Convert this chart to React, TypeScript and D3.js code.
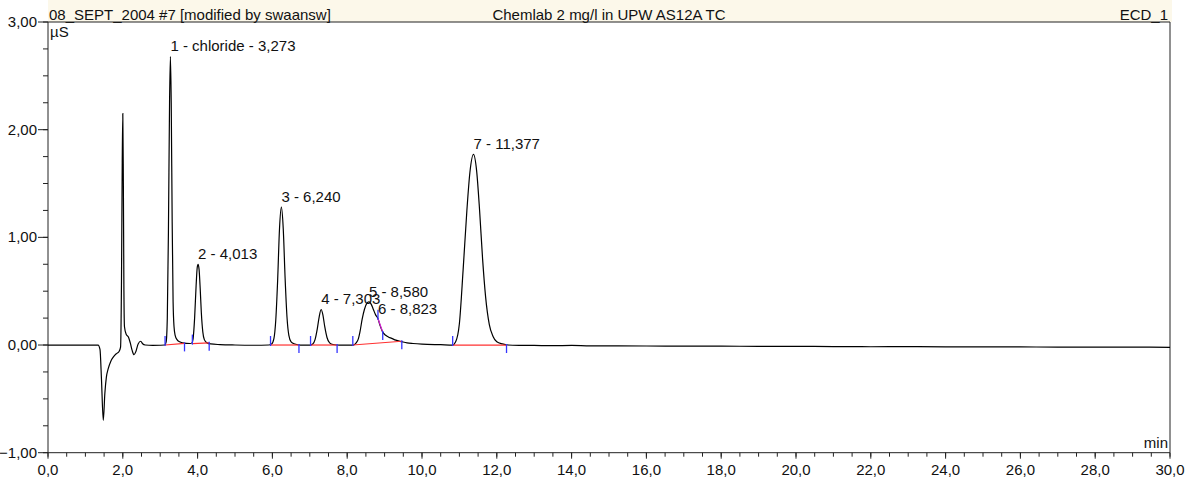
import React from "react";
import * as d3 from "d3";

const W = 1192;
const H = 483;

// Conductivity trace: [retention time (min), signal (µS)]
const trace: [number, number][] = [
  [0, 0], [0.5, 0.0], [1.0, 0.0], [1.34, 0.0], [1.39, -0.04], [1.43, -0.32],
  [1.478, -0.7], [1.52, -0.45], [1.56, -0.3], [1.61, -0.22], [1.68, -0.15],
  [1.75, -0.11], [1.83, -0.08], [1.9, -0.06], [1.94, -0.02], [1.965, 0.6],
  [1.985, 1.7], [2.0, 2.15], [2.015, 1.5], [2.03, 0.5], [2.045, 0.17],
  [2.09, 0.1], [2.15, 0.075], [2.2, 0.02], [2.25, -0.05], [2.3, -0.09],
  [2.35, -0.06], [2.41, 0.01], [2.48, 0.035], [2.53, 0.012], [2.6, 0.0],
  [2.8, -0.003], [3.0, -0.002], [3.12, 0.0],
  // peak 1
  [3.16, 0.03], [3.19, 0.25], [3.22, 1.05], [3.25, 2.25], [3.273, 2.68],
  [3.295, 2.25], [3.32, 1.15], [3.345, 0.4], [3.37, 0.17], [3.4, 0.09],
  [3.45, 0.05], [3.52, 0.03], [3.6, 0.02], [3.7, 0.015], [3.8, 0.014],
  // peak 2
  [3.85, 0.02], [3.88, 0.06], [3.92, 0.25], [3.96, 0.55], [3.99, 0.72],
  [4.013, 0.75], [4.04, 0.7], [4.07, 0.52], [4.1, 0.3], [4.14, 0.12],
  [4.18, 0.05], [4.25, 0.02], [4.35, 0.01], [4.6, 0.004], [5.0, 0.0],
  [5.5, -0.002], [5.9, 0.0],
  // peak 3
  [5.98, 0.01], [6.04, 0.06], [6.09, 0.23], [6.14, 0.6], [6.19, 1.08],
  [6.24, 1.28], [6.29, 1.08], [6.34, 0.62], [6.39, 0.26], [6.44, 0.09],
  [6.5, 0.03], [6.6, 0.01], [6.75, 0.0], [6.9, 0.0], [7.0, 0.0],
  // peak 4
  [7.08, 0.01], [7.14, 0.05], [7.2, 0.15], [7.25, 0.26], [7.303, 0.33],
  [7.35, 0.28], [7.4, 0.17], [7.46, 0.07], [7.53, 0.02], [7.62, 0.005],
  [7.8, 0.0], [8.0, 0.0], [8.16, 0.0],
  // peaks 5 and 6
  [8.24, 0.02], [8.3, 0.06], [8.34, 0.12], [8.4, 0.24], [8.46, 0.33],
  [8.52, 0.385], [8.58, 0.4], [8.64, 0.38], [8.7, 0.33], [8.76, 0.28],
  [8.823, 0.245], [8.88, 0.18], [8.95, 0.12], [9.03, 0.09], [9.1, 0.075],
  [9.19, 0.062], [9.3, 0.045], [9.46, 0.031], [9.6, 0.02], [9.76, 0.014],
  [10.0, 0.008], [10.5, 0.003], [10.82, 0.0],
  // peak 7
  [10.9, 0.03], [11.0, 0.2], [11.1, 0.7], [11.2, 1.25], [11.28, 1.6],
  [11.377, 1.77], [11.46, 1.62], [11.54, 1.25], [11.62, 0.8], [11.7, 0.45],
  [11.8, 0.19], [11.9, 0.08], [12.0, 0.03], [12.15, 0.01], [12.3, 0.0],
  // late baseline
  [12.6, -0.003], [13.0, -0.004], [13.5, -0.006], [14.0, -0.004],
  [14.5, -0.008], [15.0, -0.007], [16.0, -0.009], [17.0, -0.01],
  [18.0, -0.011], [19.0, -0.012], [20.0, -0.013], [21.0, -0.014],
  [22.0, -0.016], [23.0, -0.015], [24.0, -0.017], [25.0, -0.018],
  [26.0, -0.018], [27.0, -0.019], [28.0, -0.02], [29.0, -0.02], [30.0, -0.021],
];

// Integrated peaks
const peakNumbers = [1, 2, 3, 4, 5, 6, 7];
const peakNames = ["chloride", "", "", "", "", "", ""];
const peakTimes = [3.273, 4.013, 6.24, 7.303, 8.58, 8.823, 11.377];
const peakHeights = [2.68, 0.75, 1.28, 0.33, 0.4, 0.245, 1.77];
const peakStarts = [3.13, 3.86, 5.95, 7.02, 8.15, 8.823, 10.82];
const peakEnds = [3.65, 4.31, 6.71, 7.73, 9.46, 8.95, 12.26];
const baseAtStart = [0.0, 0.013, 0.0, 0.0, 0.0, 0.245, 0.0];
const baseAtEnd = [0.015, 0.02, 0.0, 0.0, 0.035, 0.12, 0.0];
// peak 6 is skimmed off peak 5's tail
const skimmed = [false, false, false, false, false, true, false];

const yTicks = [-1, 0, 1, 2, 3];
const xTicks = [0, 2, 4, 6, 8, 10, 12, 14, 16, 18, 20, 22, 24, 26, 28, 30];

const headerLeft = "08_SEPT_2004 #7 [modified by swaansw]";
const headerCenter = "Chemlab 2 mg/l in UPW AS12A TC";
const headerRight = "ECD_1";

const FONT = "'Liberation Sans', Arial, sans-serif";
const FS = 15;

export default function App() {
  const left = 48;
  const right = 1170;
  const top = 22;
  const bottom = 452.7;

  const x = d3.scaleLinear().domain([0, 30]).range([left, right]);
  const y = d3.scaleLinear().domain([-1, 3]).range([bottom, top]);

  const line = d3
    .line<[number, number]>()
    .x((d) => x(d[0]))
    .y((d) => y(d[1]))
    .curve(d3.curveMonotoneX);

  const fmtY = (v: number) => d3.format(".2f")(v).replace(".", ",");
  const fmtX = (v: number) => d3.format(".1f")(v).replace(".", ",");
  const fmtT = (v: number) => d3.format(".3f")(v).replace(".", ",");

  const minorY = d3.range(-1, 3.0001, 0.25);
  const minorX = d3.range(0, 30.0001, 0.5);

  return (
    <svg
      width={W}
      height={H}
      style={{ position: "absolute", left: 0, top: 0, background: "#fff" }}
      fontFamily={FONT}
      fontSize={FS}
    >
      {/* header band */}
      <rect x={left} y={0} width={right - left + 2} height={top} fill="#fcf8ea" />
      <text x={left + 1} y={19.5} fill="#111">{headerLeft}</text>
      <text x={(left + right) / 2} y={19.5} textAnchor="middle" fill="#111">
        {headerCenter}
      </text>
      <text x={right - 2} y={19.5} textAnchor="end" fill="#111">{headerRight}</text>

      {/* frame */}
      <line x1={left} x2={right} y1={top} y2={top} stroke="#222" strokeWidth={1} />
      <line x1={right} x2={right} y1={top} y2={bottom} stroke="#222" strokeWidth={1} />

      {/* y axis */}
      <line x1={left} x2={left} y1={top} y2={bottom} stroke="#222" strokeWidth={1} />
      {minorY.map((v) => (
        <line key={"my" + v} x1={left - 5} x2={left} y1={y(v)} y2={y(v)} stroke="#222" />
      ))}
      {yTicks.map((v) => (
        <g key={"y" + v}>
          <line x1={left - 10} x2={left} y1={y(v)} y2={y(v)} stroke="#222" />
          <text x={left - 11} y={y(v) + 5} textAnchor="end" fill="#111">
            {fmtY(v)}
          </text>
        </g>
      ))}
      <text x={left + 2} y={37} fill="#111">µS</text>

      {/* x axis */}
      <line x1={left} x2={right} y1={bottom} y2={bottom} stroke="#222" strokeWidth={1} />
      {minorX.map((v) => (
        <line key={"mx" + v} x1={x(v)} x2={x(v)} y1={bottom} y2={bottom + 4} stroke="#222" />
      ))}
      {xTicks.map((v) => (
        <g key={"x" + v}>
          <line x1={x(v)} x2={x(v)} y1={bottom} y2={bottom + 6} stroke="#222" />
          <text x={x(v)} y={475} textAnchor="middle" fill="#111">
            {fmtX(v)}
          </text>
        </g>
      ))}
      <text x={right - 2} y={448} textAnchor="end" fill="#111">min</text>

      {/* signal */}
      <path d={line(trace) || ""} fill="none" stroke="#000" strokeWidth={1.2} />

      {/* integration baselines and delimiters */}
      {peakNumbers.map((n, i) => (
        <line
          key={"b" + n}
          x1={x(peakStarts[i])}
          y1={y(baseAtStart[i])}
          x2={x(peakEnds[i])}
          y2={y(baseAtEnd[i])}
          stroke={skimmed[i] ? "#d81ed8" : "#ff3030"}
          strokeWidth={1.2}
        />
      ))}
      {peakNumbers.map((n, i) => (
        <g key={"d" + n} stroke="#3434ff" strokeWidth={1.3}>
          <line
            x1={x(peakStarts[i])}
            x2={x(peakStarts[i])}
            y1={y(baseAtStart[i]) - 9}
            y2={y(baseAtStart[i]) + 1}
          />
          <line
            x1={x(peakEnds[i])}
            x2={x(peakEnds[i])}
            y1={y(baseAtEnd[i]) - 1}
            y2={y(baseAtEnd[i]) + 8}
          />
        </g>
      ))}

      {/* peak labels */}
      {peakNumbers.map((n, i) => (
        <text key={"l" + n} x={x(peakTimes[i])} y={y(peakHeights[i]) - 5} fill="#111">
          {n + " - " + (peakNames[i] ? peakNames[i] + " - " : "") + fmtT(peakTimes[i])}
        </text>
      ))}
    </svg>
  );
}
